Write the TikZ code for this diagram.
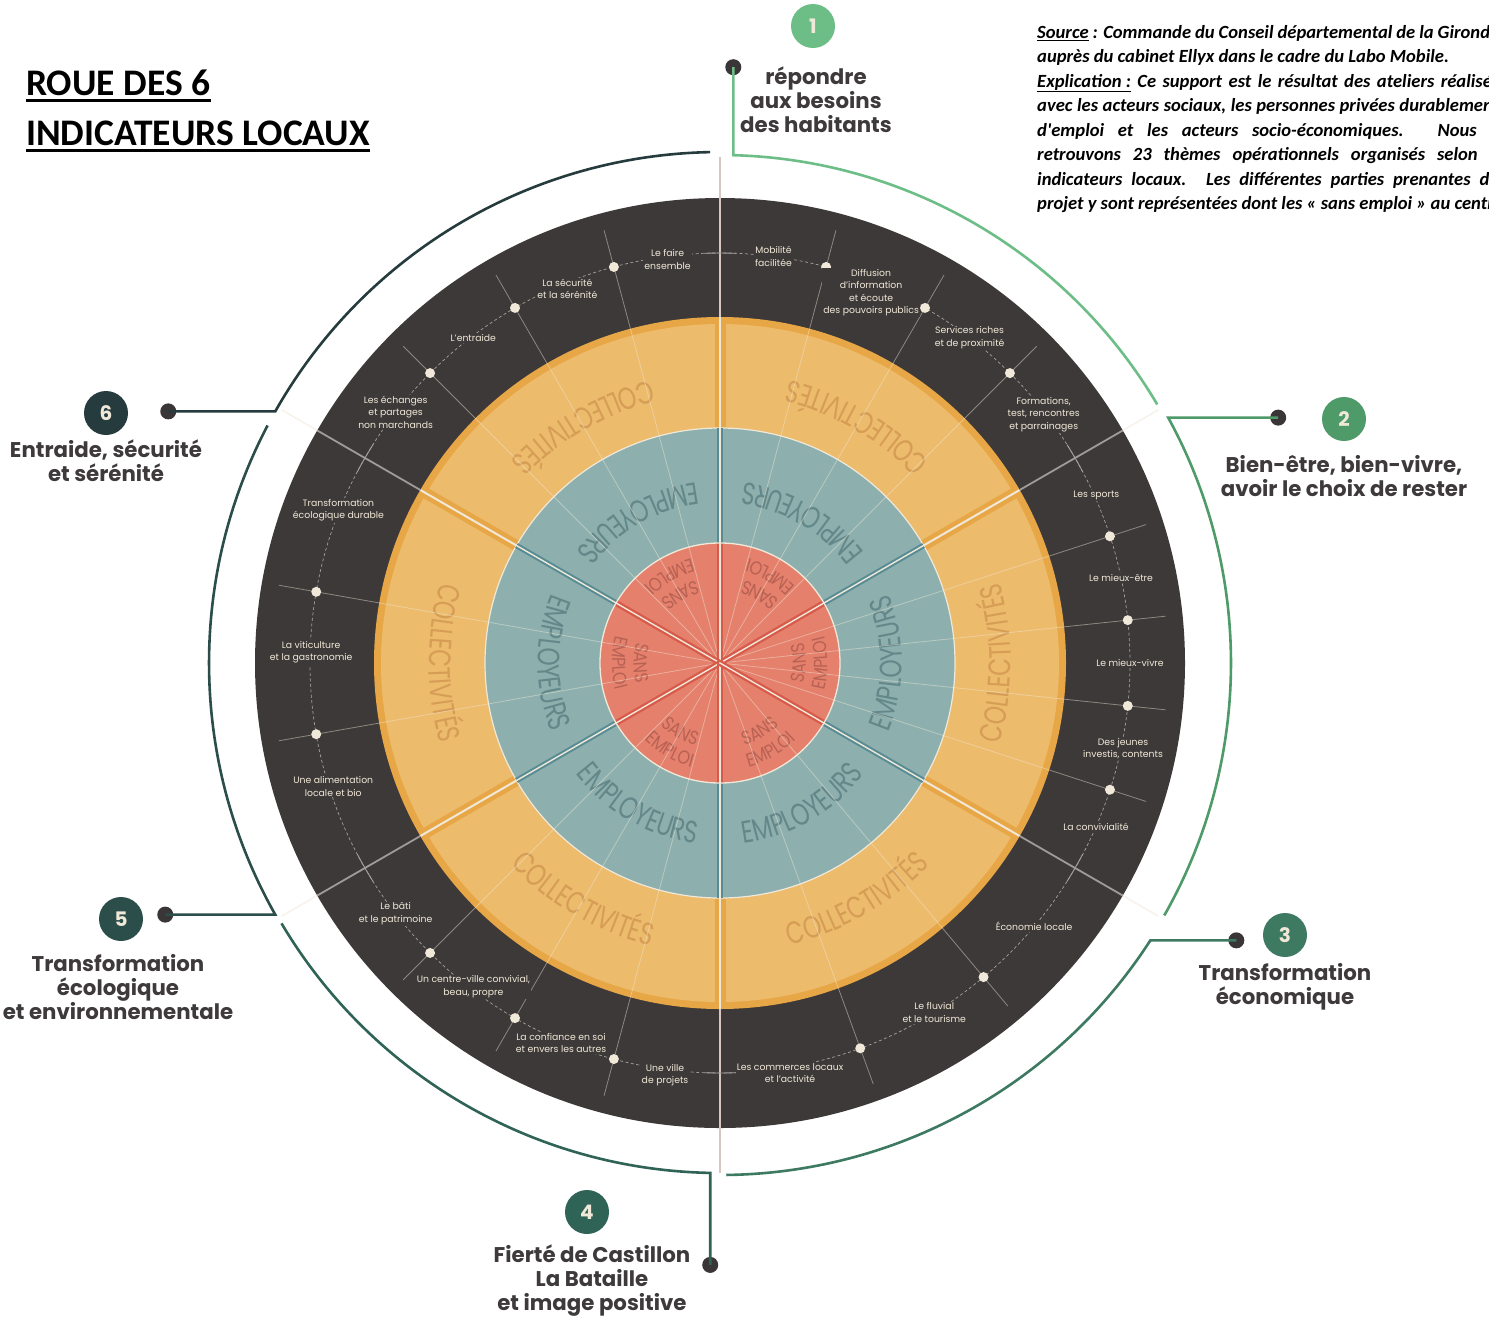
\documentclass[tikz,border=0pt]{standalone}
\usepackage{fontspec}
\setmainfont{Poppins}
\newfontfamily\calib{Carlito}
\newfontfamily\ringf{Poppins}[FakeStretch=0.75]
\newfontfamily\redf{Poppins}[FakeStretch=0.85]
\usetikzlibrary{decorations.text,calc}
\definecolor{dkbg}{RGB}{61,57,56}
\definecolor{orim}{RGB}{232,167,71}
\definecolor{ofill}{RGB}{237,187,108}
\definecolor{tealc}{RGB}{141,176,174}
\definecolor{redc}{RGB}{229,128,108}
\definecolor{dred}{RGB}{216,90,74}
\definecolor{cream}{RGB}{240,232,216}
\definecolor{headc}{RGB}{62,58,59}
\definecolor{pale}{RGB}{216,199,193}
\definecolor{dteal}{RGB}{88,140,148}
\definecolor{divgray}{RGB}{160,155,152}
\definecolor{trackc}{RGB}{165,160,156}
\definecolor{dotc}{RGB}{58,53,54}
\definecolor{otext}{RGB}{214,157,86}
\definecolor{ttext}{RGB}{100,135,138}
\definecolor{rtext}{RGB}{184,98,84}
\definecolor{gA}{RGB}{109,190,134}
\definecolor{gB}{RGB}{78,154,105}
\definecolor{gC}{RGB}{62,122,98}
\definecolor{gD}{RGB}{47,99,86}
\definecolor{gE}{RGB}{44,78,74}
\definecolor{gF}{RGB}{38,59,61}
\tikzset{
 themelbl/.style={font=\fontsize{9.3}{12.5}\selectfont, text=cream, align=center, fill=dkbg, inner sep=1.2pt},
 tdot/.style={circle, fill=cream, inner sep=0pt, minimum size=10pt},
 cdot/.style={circle, fill=dotc, inner sep=0pt, minimum size=16pt},
 numc/.style={circle, inner sep=0pt, minimum size=44pt, text=cream, font=\bfseries\fontsize{20}{20}\selectfont},
 headlbl/.style={align=center, text=headc, font=\bfseries\fontsize{21.3}{24}\selectfont},
 arcline/.style={line width=2.6pt},
 ringtxt/.style={decorate, decoration={text along path, text align=center, text color=otext, text={|\ringf\fontsize{31}{31}\selectfont|COLLECTIVITÉS}}},
 emptxt/.style={decorate, decoration={text along path, text align=center, text color=ttext, text={|\ringf\fontsize{31}{31}\selectfont|EMPLOYEURS}}},
 sanstxt/.style={decorate, decoration={text along path, text align=center, text color=rtext, text={|\redf\fontsize{19}{19}\selectfont|SANS}}},
 emplotxt/.style={decorate, decoration={text along path, text align=center, text color=rtext, text={|\redf\fontsize{19}{19}\selectfont|EMPLOI}}},
}
\begin{document}
\begin{tikzpicture}[x=1pt,y=1pt]
\useasboundingbox (0,0) rectangle (1489,-1318);
\clip (0,0) rectangle (1489,-1318);
\fill[white] (0,0) rectangle (1489,-1318);

% title
\node[anchor=base west, inner sep=0pt, font=\calib\bfseries\fontsize{37.5}{40}\selectfont] (t1) at (26,-95) {ROUE DES 6};
\node[anchor=base west, inner sep=0pt, font=\calib\bfseries\fontsize{37.5}{40}\selectfont] (t2) at (26,-145) {INDICATEURS LOCAUX};
\draw[line width=2.8pt] ($(t1.base west)+(0,-5.5)$) -- ($(t1.base east)+(0,-5.5)$);
\draw[line width=2.8pt] ($(t2.base west)+(0,-5.5)$) -- ($(t2.base east)+(0,-5.5)$);

% source text
\node[anchor=north west, inner sep=0pt, align=left, font=\calib\bfseries\itshape\fontsize{18.6}{24.5}\selectfont] (src) at (1037,-25) {%
\makebox[462pt][s]{\underline{Source} : Commande du Conseil départemental de la Gironde}\\
auprès du cabinet Ellyx dans le cadre du Labo Mobile.\\
\makebox[462pt][s]{\underline{Explication :} Ce support est le résultat des ateliers réalisés}\\
\makebox[462pt][s]{avec les acteurs sociaux, les personnes privées durablement}\\
\makebox[462pt][s]{d'emploi et les acteurs socio-économiques. Nous y}\\
\makebox[462pt][s]{retrouvons 23 thèmes opérationnels organisés selon 6}\\
\makebox[462pt][s]{indicateurs locaux. Les différentes parties prenantes du}\\
projet y sont représentées dont les « sans emploi » au centre.};

\begin{scope}[shift={(720,-663)}]
 % rings
 \fill[dkbg] (0,0) circle[radius=465];
 \fill[orim] (0,0) circle[radius=346];
 \fill[ofill] (0,0) circle[radius=339];
 \foreach \a in {30,90,150,210,270,330} \draw[orim, line width=11pt] (\a:235) -- (\a:343);
 \fill[tealc] (0,0) circle[radius=235];
 \draw[cream, line width=1.2pt] (0,0) circle[radius=235];
 \fill[redc] (0,0) circle[radius=120];
 % ring texts
 \foreach \c in {60,0,-60,-120,180,120} {
  \path[ringtxt] (\c-45:291) arc[start angle=\c-45, end angle=\c+45, radius=291];
  \path[emptxt] (\c-50:182) arc[start angle=\c-50, end angle=\c+50, radius=182];
  \path[sanstxt] (\c-45:86) arc[start angle=\c-45, end angle=\c+45, radius=86];
  \path[emplotxt] (\c-40:108) arc[start angle=\c-40, end angle=\c+40, radius=108];
 }
 % thin radial theme lines
 \foreach \a in {75,60,45,18,6,-6,-18,-50,-70,255,240,225,170,190,135,120,105}
  \draw[cream, opacity=.45, line width=.8pt] (0,0) -- (\a:448);
 % sector dividers
 \foreach \a in {30,90,150,210,270,330} {
  \draw[dred, line width=6pt] (0,0) -- (\a:120);
  \draw[dteal, line width=5.5pt] (\a:120) -- (\a:235);
  \draw[cream, line width=1.4pt] (0,0) -- (\a:235);
  \draw[cream, line width=2pt] (\a:235) -- (\a:346);
 }
 \draw[cream, line width=1.3pt] (0,0) circle[radius=120];
 \foreach \a in {30,150,210,330} {
  \draw[divgray, line width=1.8pt] (\a:346) -- (\a:465);
  \draw[cream, opacity=.5, line width=1.5pt] (\a:465) -- (\a:506);
 }
 \draw[pale, line width=2.2pt] (90:346) -- (90:506);
 \draw[pale, line width=2.2pt] (270:346) -- (270:510);
 % track
 \draw[trackc, line width=.7pt, dash pattern=on 3pt off 2.5pt] (0,0) circle[radius=410];
 \foreach \a in {30,90,150,210,270,330}
  \draw[trackc, line width=.9pt] (\a-2.2:410) arc[start angle=\a-2.2, end angle=\a+2.2, radius=410];
 % theme dots
 \foreach \a [count=\i] in {75,60,45,18,6,-6,-18,-50,-70,255,240,225,170,190,135,120,105}
  \node[tdot] (td\i) at (\a:410) {};
 % theme labels
 \node[themelbl] (l1) at (82.5:410) {Mobilité\\facilitée};
 \node[themelbl] (l2) at (67.8:400) {Diffusion\\d’information\\et écoute\\des pouvoirs publics};
 \node[themelbl] (l3) at (52.5:410) {Services riches\\et de proximité};
 \node[themelbl] (l4) at (37.5:408) {Formations,\\test, rencontres\\et parrainages};
 \node[themelbl] (l5) at (24:412) {Les sports};
 \node[themelbl] (l6) at (12:410) {Le mieux-être};
 \node[themelbl] (l7) at (0:410) {Le mieux-vivre};
 \node[themelbl] (l8) at (-12:412) {Des jeunes\\investis, contents};
 \node[themelbl] (l9) at (-23.5:410) {La convivialité};
 \node[themelbl] (l10) at (-40:410) {Économie locale};
 \node[themelbl] (l11) at (-58.5:410) {Le fluvial\\et le tourisme};
 \node[themelbl] (l12) at (-80.3:416) {Les commerces locaux\\et l’activité};
 \node[themelbl] (l13) at (262.4:416) {Une ville\\de projets};
 \node[themelbl] (l14) at (247.3:412) {La confiance en soi\\et envers les autres};
 \node[themelbl] (l15) at (232.7:407) {Un centre-ville convivial,\\beau, propre};
 \node[themelbl] (l16) at (217.7:410) {Le bâti\\et le patrimoine};
 \node[themelbl] (l17) at (197.7:406) {Une alimentation\\locale et bio};
 \node[themelbl] (l18) at (178.5:409) {La viticulture\\et la gastronomie};
 \node[themelbl] (l19) at (158.2:411) {Transformation\\écologique durable};
 \node[themelbl] (l20) at (142.3:410) {Les échanges\\et partages\\non marchands};
 \node[themelbl] (l21) at (127.2:408) {L’entraide};
 \node[themelbl] (l22) at (112.2:404) {La sécurité\\et la sérénité};
 \node[themelbl] (l23) at (97.4:407) {Le faire\\ensemble};

 % outer indicator arcs and leaders
 \coordinate (a1) at (88.5:508);
 \node[cdot] (d1) at ($(a1)+(0,88)$) {};
 \draw[gA, arcline] (d1.center) -- (a1) arc[start angle=88.5, end angle=30.6, radius=508];
 \coordinate (a2) at (28.7:511);
 \node[cdot] (d2) at ($(a2)+(110,0)$) {};
 \draw[gB, arcline] (d2.center) -- (a2) arc[start angle=28.7, end angle=-29.6, radius=511];
 \coordinate (a3) at (-32.8:512);
 \node[cdot] (d3) at ($(a3)+(86,0)$) {};
 \draw[gC, arcline] (d3.center) -- (a3) arc[start angle=-32.8, end angle=-89.3, radius=512];
 \coordinate (a4) at (-91.1:510);
 \node[cdot] (d4) at ($(a4)+(0,-92)$) {};
 \draw[gD, arcline] (d4.center) -- (a4) arc[start angle=-91.1, end angle=-149.3, radius=510];
 \coordinate (a5) at (209.5:511);
 \node[cdot] (d5) at ($(a5)+(-110,0)$) {};
 \draw[gE, arcline] (d5.center) -- (a5) arc[start angle=209.5, end angle=152.3, radius=511];
 \coordinate (a6) at (150.5:511);
 \node[cdot] (d6) at ($(a6)+(-107,0)$) {};
 \draw[gF, arcline] (d6.center) -- (a6) arc[start angle=150.5, end angle=91.1, radius=511];
\end{scope}

% number badges
\node[numc, fill=gA] (n1) at (813,-26) {1};
\node[numc, fill=gB] (n2) at (1344,-419) {2};
\node[numc, fill=gC] (n3) at (1285,-935) {3};
\node[numc, fill=gD] (n4) at (587,-1212) {4};
\node[numc, fill=gE] (n5) at (121,-919) {5};
\node[numc, fill=gF] (n6) at (106,-413) {6};

% indicator headings
\node[headlbl] (h1) at (816,-100) {répondre\\aux besoins\\des habitants};
\node[headlbl] (h2) at (1344,-476) {Bien-être, bien-vivre,\\avoir le choix de rester};
\node[headlbl] (h3) at (1285,-987) {Transformation\\économique};
\node[headlbl] (h4) at (592,-1281) {Fierté de Castillon\\La Bataille\\et image positive};
\node[headlbl] (h5) at (118,-987) {Transformation\\écologique\\et environnementale};
\node[headlbl] (h6) at (106,-461) {Entraide, sécurité\\et sérénité};
\end{tikzpicture}
\end{document}
